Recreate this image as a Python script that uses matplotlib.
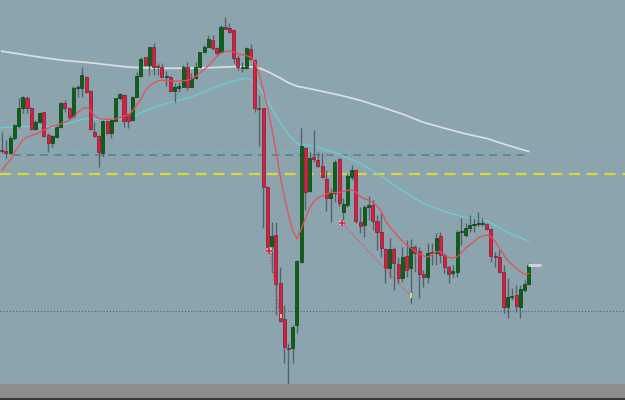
import numpy as np
import matplotlib
matplotlib.use("Agg")
import matplotlib.pyplot as plt

# ---- OHLC data (arbitrary price units) ----
opens = [250.5, 249, 247.3, 262, 274, 292, 302, 292, 271, 278, 288, 265, 257, 263.3, 273, 297.3, 292.3, 284, 312, 312,
         323, 309, 268, 264, 247.3, 279, 267, 279.3, 301.7, 305, 285.7, 280, 303.3, 324, 342.7, 335, 352.7, 333.5, 333.3, 323.3,
         323.3, 309.3, 312.3, 313.3, 333.3, 313.3, 321.7, 332.7, 347.7, 353.3, 360, 351.7, 348.3, 373.3, 371.7, 370, 341.7, 331.7, 331.7, 350.7,
         340, 292, 291.7, 213.3, 154, 164.7, 116.7, 80.7, 52, 51.7, 75, 137.7, 251.7, 209.3, 242.7, 240, 234.3, 221, 201.7, 207.3,
         240.7, 188.3, 195, 223.3, 230, 178.3, 175, 192.7, 195, 179.3, 168.3, 150.7, 131.7, 150.7, 136, 121.7, 144, 131.7, 152.7, 149,
         126, 122.7, 148.3, 146.7, 164, 145, 132.7, 127.3, 128.3, 167.7, 165, 171.7, 175, 176, 176, 176, 171, 143, 142.7, 128.3,
         92.7, 102.7, 105, 93.3, 110, 116]
highs = [268, 260, 265, 276, 302, 304, 304, 293, 280, 288.5, 288.5, 267, 265, 275, 298.3, 300, 293.3, 314, 315, 333.3,
         324, 310, 278.3, 265, 280, 280, 280.7, 302.3, 307.3, 305.7, 286.7, 304, 328.3, 343.3, 343.3, 353.3, 357.3, 337.3, 337.3, 329.3,
         324, 316.7, 318.3, 335, 338.3, 326.7, 338.3, 348.3, 355, 365, 365, 353.3, 375, 382.7, 377.3, 370.7, 345, 338.3, 353.3, 356,
         340.7, 305, 292, 214, 178.3, 178.3, 133, 95, 57, 75, 140, 271.7, 253.3, 248.3, 270, 248.3, 247.3, 230, 211.7, 240,
         241.7, 201.7, 226.7, 235, 230.7, 193.3, 195, 204, 200, 185, 186.7, 151.7, 161.7, 153.3, 143.3, 153.3, 160, 160.7, 155, 153.3,
         130, 156.7, 156.7, 166.7, 168.3, 146.7, 135, 135, 170, 181.7, 176.7, 185, 181.7, 188.3, 181.7, 177, 171.7, 148.3, 150, 135,
         121.7, 111.7, 115, 115, 120, 136.7]
lows = [247, 242, 246, 260, 272, 287, 287, 270, 270, 277, 263.3, 248.3, 253.3, 262, 272, 288, 280, 282, 303.3, 303.3,
        307.3, 270, 263.3, 233.3, 242.7, 266, 262.3, 279, 300, 273.3, 271.7, 279.3, 302.7, 323.3, 334, 325, 325, 325, 322.7, 314,
        308.3, 298.3, 308.3, 312.7, 310, 312.7, 320.7, 331.7, 346.7, 352.7, 350, 344, 347.3, 370.7, 366.7, 336.7, 330, 328.3, 331, 340,
        288.3, 254, 171.7, 150.7, 126.7, 85, 78.3, 36.7, 16, 37, 67.3, 136.7, 190, 208.3, 238.3, 233.3, 221.7, 189.3, 178.3, 198.3,
        194, 177.3, 193.3, 220, 176.7, 166.7, 163.3, 180, 170, 150, 143.3, 116.7, 122, 110, 116.7, 118.3, 123.3, 96.7, 128.3, 101.7,
        113.3, 116.7, 135, 135, 136.7, 126.7, 116.7, 123.3, 123.3, 155, 163.3, 168.3, 168.3, 174, 174, 170, 138.3, 133.3, 127.3, 86.7,
        81.7, 100, 88.3, 81.7, 108.3, 115]
closes = [249.5, 247.3, 262.3, 275, 292, 303, 292, 271, 278, 287.5, 264.3, 256.7, 264.3, 273.3, 297.3, 292, 283.3, 312.5, 312, 325,
          308.5, 271, 264, 248.3, 279.3, 267, 280, 301.7, 305.7, 279.3, 279.3, 303.3, 324, 340.7, 335, 352.7, 333.3, 333, 323.3, 323.3,
          309.3, 312.7, 314, 333.3, 313.3, 322.3, 333.3, 347.7, 353.3, 360.7, 351.7, 346.7, 373.3, 371.3, 367.7, 341.7, 333.3, 333.3, 351.7, 340.7,
          291.7, 291.3, 213.3, 152.7, 164, 116, 79.3, 52.7, 51, 73.3, 139.3, 254, 208.3, 241.7, 240.7, 234.3, 223.3, 201.7, 207.3, 238.3,
          196.7, 196, 224, 230, 179.3, 174, 192.7, 195, 179, 168.3, 151.7, 131.7, 150.7, 136.7, 121.7, 142.7, 130, 152.7, 147.3, 125.7,
          122.7, 147.3, 146.7, 162.3, 145, 133.3, 126, 129.3, 168.3, 167.7, 171.7, 175, 176, 176, 176, 171, 144, 142.7, 128.3, 92.7,
          102.7, 102.7, 94, 110.7, 116, 135]

# ---- moving averages (candle index, value) ----
slow_ma_idx = [0, 5, 10, 15, 20, 25, 30, 35, 40, 45, 50, 55, 58, 60, 62, 64, 66, 68, 70, 73, 75, 80, 85, 90, 95, 100, 105, 110, 115, 120, 125]
slow_ma_val = [348.8, 345.5, 342.2, 339.5, 337.7, 335.3, 332.9, 332, 331.7, 331.8, 332.4, 333.3, 333.3, 333, 330.5, 326.5, 322, 317.2, 313.8, 311.3, 309.6,
               305, 299.7, 293, 286, 277.7, 271.8, 266.2, 261.6, 254.7, 248.5]
mid_ma_idx = [0, 5, 10, 12, 15, 20, 24, 28, 31, 35, 40, 45, 50, 55, 58, 60, 62, 64, 66, 68, 70, 72, 75, 80, 85, 90, 95, 100, 105, 110, 115, 120, 125]
mid_ma_val = [272.3, 273.4, 274, 272, 276, 281.5, 280, 280.7, 283, 291, 297.6, 303, 312, 319, 321.7, 319, 306.5, 292, 278, 265, 256.6, 255.2, 253,
              246, 236.6, 224, 209.4, 196.6, 188.5, 182.4, 179.5, 167.8, 158.8]
fast_ma_idx = [0, 1, 2, 3, 4, 5, 6, 8, 10, 12, 14, 16, 17, 18, 19, 20, 21, 22, 23, 25, 27, 29, 30, 31, 32, 33, 34, 35, 36, 37, 38, 40, 42, 44,
               45, 46, 47, 48, 49, 50, 51, 52, 53, 54, 55, 56, 57, 58, 59, 60, 61, 62, 63, 64, 65, 66, 67, 68, 69, 70, 71, 72, 73, 74, 75, 76,
               78, 80, 82, 83, 84, 85, 86, 88, 89, 90, 91, 92, 93, 94, 95, 96, 97, 98, 99, 100, 101, 102, 103, 104, 105, 106, 107, 108, 109, 110,
               111, 112, 113, 114, 115, 116, 117, 118, 119, 120, 121, 122, 123, 124, 125]
fast_ma_val = [229.5, 235, 240, 247, 254, 260, 263, 265.7, 270, 273.7, 276, 279.5, 283, 287.5, 291, 292.5, 290, 285, 281.3, 280.7, 281, 284, 284.7,
               289, 295, 301, 309, 314, 316.8, 319, 320, 319, 319, 319.5, 321, 323.5, 327, 330.5, 334, 339, 343.5, 347, 348.5, 349.3, 348, 346.5,
               345, 344.3, 343, 338, 327, 311, 293, 272.5, 250, 225, 203.5, 185, 170, 161, 170.5, 181.5, 192, 198.5, 202, 204.5, 207.5, 207.5,
               209.5, 210, 208, 203.3, 201.5, 197.5, 194, 189, 179, 173.5, 168.5, 163.3, 159, 155, 152, 149, 146, 144, 143, 145, 148.3, 148.3,
               145, 142.5, 142, 143, 147, 152, 155, 158.3, 162, 164, 165, 163.3, 158.7, 152, 145.5, 139.5, 135.5, 132, 128.5, 125.5, 126.5]

# ---- horizontal levels ----
level_cyan_dotted = 250.0
level_gray_dashed = 245.5
level_yellow = 225.7
level_dark_dotted = 88.7
last_price = 135.5

# ---- order trend lines (index, value) ----
trend_a_idx = [63.5, 66.1]
trend_a_val = [149.5, 82.0]
trend_b_idx = [80.6, 97.0]
trend_b_val = [177.3, 104.0]

BG = "#8ca4ae"
fig = plt.figure(figsize=(6.25, 4.0), dpi=100)
fig.patch.set_facecolor(BG)

band = fig.add_axes([0, 0, 1, 16 / 400])
band.set_facecolor("#8d8d8d")
band.set_xticks([]); band.set_yticks([])
for s in band.spines.values():
    s.set_visible(False)
band.axhline(0.05, color="#3a3a3a", lw=1.5)
band.set_ylim(0, 1)

ax = fig.add_axes([0, 16 / 400, 1, 384 / 400])
ax.set_facecolor(BG)
for s in ax.spines.values():
    s.set_visible(False)
ax.set_xticks([]); ax.set_yticks([])

step = 4.217
x0 = -1.7 / step
ax.set_xlim(x0, x0 + 625 / step)
ax.set_ylim(16, 400)

n = len(opens)
idx = np.arange(n)
o = np.array(opens); h = np.array(highs); l = np.array(lows); c = np.array(closes)

# horizontal lines
ax.hlines(level_cyan_dotted, 4.3, 124.8, colors="#5cc4d6", lw=1.0, linestyles=(0, (1, 1.2)), zorder=1)
ax.hlines(level_gray_dashed, 2.7, 124.8, colors="#70818a", lw=1.4, linestyles=(0, (4, 3)), zorder=1)
ax.axhline(level_yellow, color="#d9d83c", lw=1.6, linestyle=(0, (5, 3)), zorder=1)
ax.axhline(level_dark_dotted, color="#5d6c74", lw=0.9, linestyle=(0, (1, 1.5)), zorder=1)

# moving averages
ax.plot(slow_ma_idx, slow_ma_val, color="#dcdfe0", lw=1.25, zorder=2)
ax.plot(mid_ma_idx, mid_ma_val, color="#66d2d6", lw=0.9, zorder=2)
ax.plot(fast_ma_idx, fast_ma_val, color="#e2505a", lw=0.9, zorder=4)

# trend lines
ax.plot(trend_a_idx, trend_a_val, color="#e04858", lw=0.9, linestyle=(0, (1, 1.5)), zorder=4)
ax.plot(trend_b_idx, trend_b_val, color="#e04858", lw=0.9, linestyle=(0, (1, 1.5)), zorder=4)
ax.scatter([trend_a_idx[0], trend_b_idx[0]], [trend_a_val[0], trend_b_val[0]], s=18, facecolor="#c8cdd0",
           edgecolor="none", zorder=5)
ax.scatter([trend_a_idx[0], trend_b_idx[0]], [trend_a_val[0], trend_b_val[0]], s=14, marker="+", color="#e0203a",
           linewidths=1.2, zorder=6)
ax.vlines([trend_a_idx[1] + 0.15, trend_b_idx[1]], [trend_a_val[1], trend_b_val[1] - 1.5],
          [trend_a_val[1] + 4, trend_b_val[1] + 3], colors="#f2e27a", lw=1.2, zorder=6)

# candles
ax.vlines(idx, l, h, colors="#55636a", lw=1.0, zorder=3)
up = c >= o
bottoms = np.minimum(o, c)
heights = np.maximum(np.abs(c - o), 0.9)
ax.bar(idx[up], heights[up], bottom=bottoms[up], width=0.72, color="#076410", edgecolor="#123d18", lw=0.5, zorder=3)
ax.bar(idx[~up], heights[~up], bottom=bottoms[~up], width=0.72, color="#dc1c40", edgecolor="#7a2030", lw=0.5, zorder=3)

# last price marker
ax.hlines(last_price, n - 1 - 0.1, n - 1 + 3.0, colors="#d4d6d8", lw=2.0, zorder=5)

fig.savefig("out.png", dpi=100, facecolor=BG)
